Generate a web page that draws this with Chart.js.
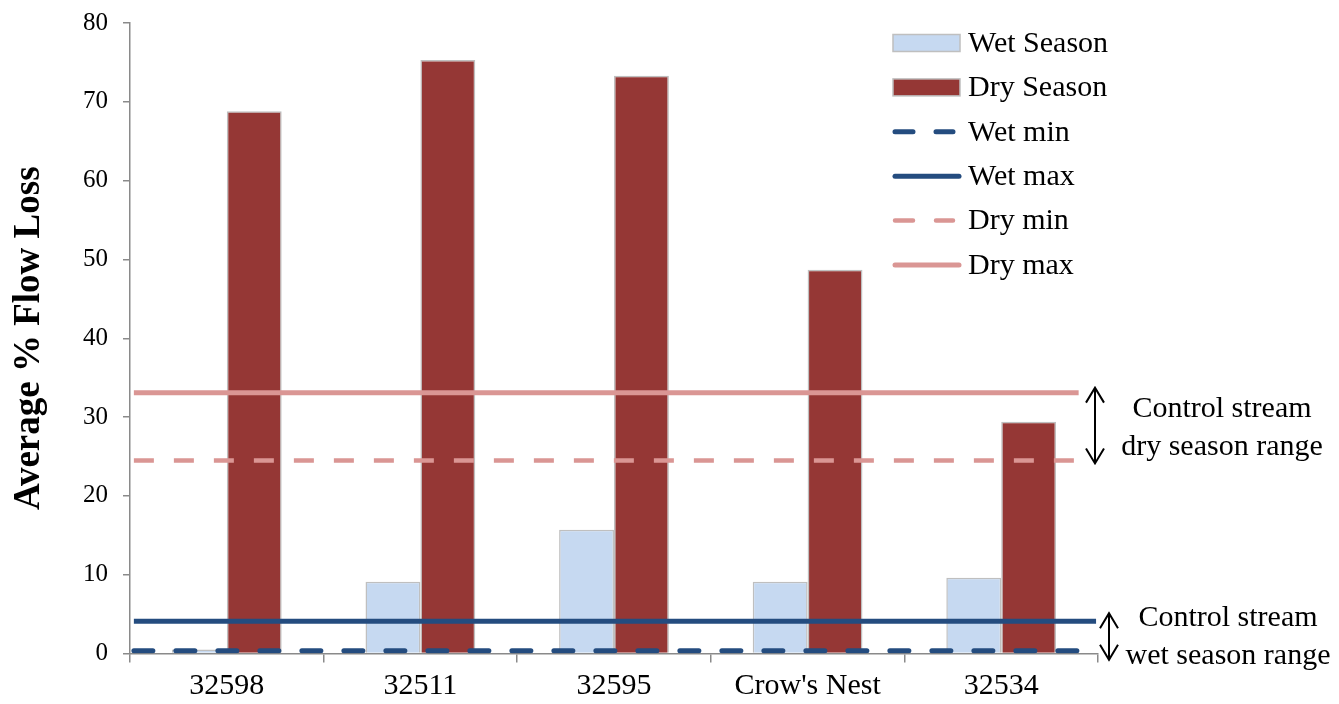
<!DOCTYPE html>
<html>
<head>
<meta charset="utf-8">
<script src="https://cdn.jsdelivr.net/npm/chart.js@4/dist/chart.umd.min.js"></script>
<style>
  html, body { margin: 0; padding: 0; background: #fff; }
  #wrap { width: 1339px; height: 704px; }
</style>
</head>
<body>
<div id="wrap"><canvas id="c" width="1339" height="704"></canvas></div>
<script>
// Sites and average % flow loss per season
const sites = ['32598', '32511', '32595', "Crow's Nest", '32534'];
const wetSeason = [0.5, 9.1, 15.7, 9.1, 9.6];
const drySeason = [68.8, 75.3, 73.3, 48.7, 29.4];

// Control stream reference levels (min / max per season)
const controlNames = ['Wet min', 'Wet max', 'Dry min', 'Dry max'];
const controlValues = [0.35, 4.1, 24.5, 33.1];
// Horizontal extent of each reference line, in category positions
// (first category centred on 0, axis edges at -0.5 and 4.5)
const controlFrom = [-0.48, -0.48, -0.48, -0.48];
const controlTo = [4.42, 4.49, 4.4, 4.4];

const yTicks = [0, 10, 20, 30, 40, 50, 60, 70, 80];

const SERIF = "'Liberation Serif', 'Times New Roman', serif";
const WET_FILL = '#c6d9f1';
const DRY_FILL = '#953735';
const WET_LINE = '#244c7f';
const DRY_LINE = '#da9694';
const AXIS = '#8a8a8a';

const lineStyles = [
  { color: WET_LINE, width: 5, dash: [19, 23], cap: 'round' },
  { color: WET_LINE, width: 5, dash: [], cap: 'butt' },
  { color: DRY_LINE, width: 4.5, dash: [20, 20], cap: 'butt' },
  { color: DRY_LINE, width: 5, dash: [], cap: 'butt' }
];

const lineDatasets = controlNames.map((name, i) => ({
  type: 'line',
  label: name,
  parsing: false,
  data: [{ x: controlFrom[i], y: controlValues[i] }, { x: controlTo[i], y: controlValues[i] }],
  borderColor: lineStyles[i].color,
  borderWidth: lineStyles[i].width,
  borderDash: lineStyles[i].dash,
  borderCapStyle: lineStyles[i].cap,
  pointRadius: 0,
  fill: false,
  order: 1
}));

// Legend drawn in the upper right of the plot
const legendBox = {
  id: 'legendBox',
  afterDraw(chart) {
    const ctx = chart.ctx;
    const x0 = 893, sw = 67, y0 = 43, step = 44.4;
    const items = [
      { label: 'Wet Season', kind: 'box', fill: WET_FILL },
      { label: 'Dry Season', kind: 'box', fill: DRY_FILL },
      { label: controlNames[0], kind: 'line', s: lineStyles[0] },
      { label: controlNames[1], kind: 'line', s: lineStyles[1] },
      { label: controlNames[2], kind: 'line', s: lineStyles[2] },
      { label: controlNames[3], kind: 'line', s: lineStyles[3] }
    ];
    ctx.save();
    items.forEach((it, i) => {
      const cy = y0 + i * step;
      if (it.kind === 'box') {
        ctx.fillStyle = it.fill;
        ctx.fillRect(x0, cy - 8.5, sw, 17);
        ctx.strokeStyle = '#bfbfbf';
        ctx.lineWidth = 1.5;
        ctx.strokeRect(x0, cy - 8.5, sw, 17);
      } else {
        ctx.strokeStyle = it.s.color;
        ctx.lineWidth = it.s.width;
        ctx.lineCap = 'round';
        ctx.beginPath();
        if (it.s.dash.length) {
          ctx.moveTo(x0 + 2, cy); ctx.lineTo(x0 + 20, cy);
          ctx.moveTo(x0 + 43, cy); ctx.lineTo(x0 + 60, cy);
        } else {
          ctx.moveTo(x0 + 2, cy); ctx.lineTo(x0 + 66, cy);
        }
        ctx.stroke();
      }
      ctx.fillStyle = '#000';
      ctx.font = '30px ' + SERIF;
      ctx.textAlign = 'left';
      ctx.textBaseline = 'middle';
      ctx.fillText(it.label, 968, cy + 1);
    });
    ctx.restore();
  }
};

// Double arrows and labels marking the control stream ranges
const rangeNotes = {
  id: 'rangeNotes',
  afterDraw(chart) {
    const ctx = chart.ctx;
    const area = chart.chartArea;
    const y = chart.scales.y;
    const arrow = (x, top, bottom) => {
      ctx.beginPath();
      ctx.moveTo(x, top); ctx.lineTo(x, bottom);
      ctx.moveTo(x - 9, top + 15); ctx.lineTo(x, top); ctx.lineTo(x + 9, top + 15);
      ctx.moveTo(x - 9, bottom - 15); ctx.lineTo(x, bottom); ctx.lineTo(x + 9, bottom - 15);
      ctx.stroke();
    };
    ctx.save();
    ctx.strokeStyle = '#000';
    ctx.lineWidth = 2;
    arrow(area.right - 3, y.getPixelForValue(controlValues[3]) - 5, y.getPixelForValue(controlValues[2]) + 3);
    arrow(area.right + 11, y.getPixelForValue(controlValues[1]) - 8, y.getPixelForValue(controlValues[0]) + 9);
    ctx.fillStyle = '#000';
    ctx.font = '30px ' + SERIF;
    ctx.textAlign = 'center';
    ctx.textBaseline = 'middle';
    ctx.fillText('Control stream', 1222, 409);
    ctx.fillText('dry season range', 1222, 447);
    ctx.fillText('Control stream', 1228, 618);
    ctx.fillText('wet season range', 1228, 656);
    ctx.restore();
  }
};

new Chart(document.getElementById('c'), {
  type: 'bar',
  data: {
    labels: sites,
    datasets: [
      {
        label: 'Wet Season',
        data: wetSeason,
        backgroundColor: WET_FILL,
        borderColor: '#bfbfbf',
        borderWidth: 1.5,
        categoryPercentage: 0.567,
        barPercentage: 1,
        order: 2
      },
      {
        label: 'Dry Season',
        data: drySeason,
        backgroundColor: DRY_FILL,
        borderColor: '#bfbfbf',
        borderWidth: 1.5,
        categoryPercentage: 0.567,
        barPercentage: 1,
        order: 2
      },
      ...lineDatasets
    ]
  },
  options: {
    responsive: false,
    animation: false,
    devicePixelRatio: 1,
    layout: { padding: { top: 0, right: 241, left: 0, bottom: 0 } },
    plugins: {
      legend: { display: false },
      tooltip: { enabled: false },
      title: { display: false }
    },
    scales: {
      x: {
        type: 'category',
        offset: true,
        grid: { display: true, offset: true, drawOnChartArea: false, color: AXIS, lineWidth: 1.5, tickLength: 9 },
        border: { display: true, color: AXIS, width: 1.5 },
        ticks: { color: '#000', font: { family: SERIF, size: 30 }, padding: 6, maxRotation: 0, autoSkip: false },
        afterFit(scale) { scale.height = 50.5; }
      },
      y: {
        min: yTicks[0],
        max: yTicks[yTicks.length - 1],
        afterBuildTicks(scale) { scale.ticks = yTicks.map(v => ({ value: v })); },
        grid: { display: true, drawOnChartArea: false, color: AXIS, lineWidth: 1.5, tickLength: 7 },
        border: { display: true, color: AXIS, width: 1.5 },
        ticks: { color: '#000', font: { family: SERIF, size: 25, lineHeight: '16px' }, padding: 15 },
        title: {
          display: true,
          text: 'Average % Flow Loss',
          color: '#000',
          font: { family: SERIF, size: 37, weight: 'bold', lineHeight: 1.1 },
          padding: { top: 9, bottom: 0 }
        },
        afterFit(scale) { scale.width = 130; }
      }
    }
  },
  plugins: [legendBox, rangeNotes]
});
</script>
</body>
</html>
